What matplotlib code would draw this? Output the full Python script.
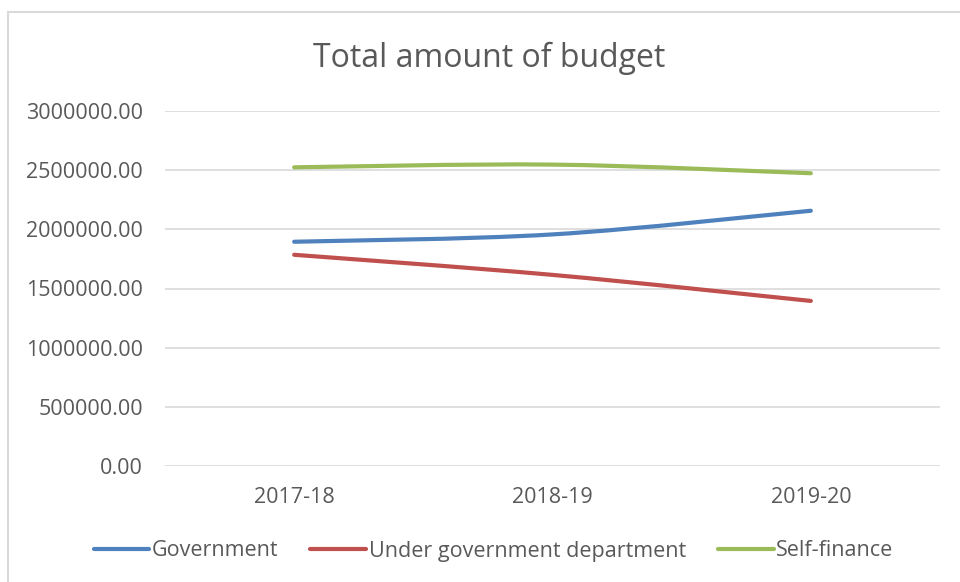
import numpy as np
import matplotlib.pyplot as plt
from matplotlib.path import Path
from matplotlib.patches import PathPatch, Rectangle
from matplotlib.lines import Line2D

plt.rcParams['font.family'] = ['Open Sans', 'DejaVu Sans']

# data
years = ['2017-18', '2018-19', '2019-20']
government = [1895000, 1957000, 2157000]
under_govt = [1785000, 1615000, 1395000]
self_finance = [2524000, 2547000, 2474000]
series_names = ['Government', 'Under government department', 'Self-finance']
colors = ['#4F81BD', '#C0504D', '#9BBB59']
yticks = [0, 500000, 1000000, 1500000, 2000000, 2500000, 3000000]

text_color = '#595959'
grid_color = '#D9D9D9'


def smooth_path(xs, ys):
    # Excel style smoothed line (Catmull-Rom as cubic Bezier)
    pts = np.column_stack([xs, ys]).astype(float)
    verts = [pts[0]]
    codes = [Path.MOVETO]
    n = len(pts)
    for i in range(n - 1):
        p0 = pts[i - 1] if i > 0 else pts[i]
        p1 = pts[i]
        p2 = pts[i + 1]
        p3 = pts[i + 2] if i + 2 < n else pts[i + 1]
        verts += [p1 + (p2 - p0) / 6, p2 - (p3 - p1) / 6, p2]
        codes += [Path.CURVE4] * 3
    return Path(verts, codes)


fig = plt.figure(figsize=(9.6, 5.82), dpi=100)
ax = fig.add_axes([165 / 960, 1 - 466 / 582, 775 / 960, 355 / 582])

x = np.arange(len(years))
for vals, c in zip([government, under_govt, self_finance], colors):
    patch = PathPatch(smooth_path(x, vals), facecolor='none', edgecolor=c,
                      lw=3, capstyle='round', joinstyle='round', zorder=3)
    ax.add_patch(patch)

ax.set_xlim(-0.5, len(years) - 0.5)
ax.set_ylim(0, 3000000)
ax.set_xticks(x)
ax.set_xticklabels(years)
ax.set_yticks(yticks)
ax.set_yticklabels(['{:.2f}'.format(v) for v in yticks])
ax.tick_params(axis='both', length=0, labelsize=15.5, labelcolor=text_color)
ax.tick_params(axis='y', pad=16)
ax.tick_params(axis='x', pad=15)
ax.grid(axis='y', color=grid_color, lw=1.2)
ax.set_axisbelow(True)
for s in ax.spines.values():
    s.set_visible(False)

fig.text(489 / 960, 1 - 58 / 582, 'Total amount of budget', ha='center', va='center',
         fontsize=23, color=text_color)

handles = [Line2D([], [], color=c, lw=3, solid_capstyle='round') for c in colors]
fig.legend(handles, series_names, loc='center', bbox_to_anchor=(0.514, 1 - 551 / 582),
           ncol=3, frameon=False, fontsize=15.5, labelcolor=text_color,
           handlelength=2.6, handletextpad=0.1, columnspacing=1.5)

# chart border
fig.patches.append(Rectangle((8 / 960, -0.1), 1.2, 1 - 12 / 582 + 0.1,
                             transform=fig.transFigure, fill=False,
                             edgecolor=grid_color, lw=1.5))

fig.savefig('out.png', dpi=100)
